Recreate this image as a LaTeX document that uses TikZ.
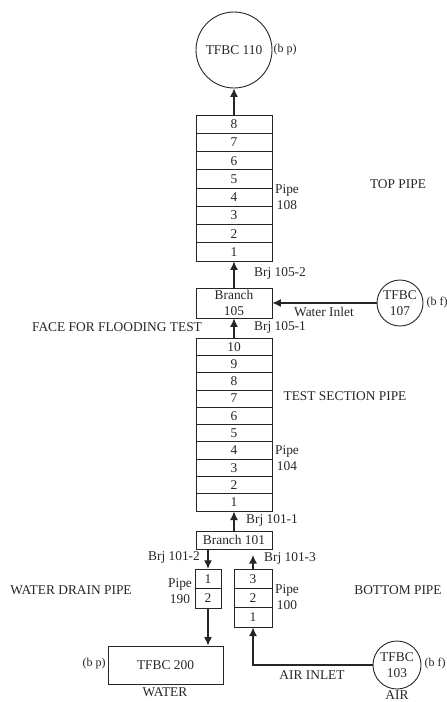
\documentclass[tikz,border=0pt]{standalone}
\usepackage{fontspec}
\setmainfont{Liberation Serif}
\usetikzlibrary{arrows.meta}
\definecolor{ink}{gray}{0.15}
\tikzset{
  every node/.style={text=ink,font=\fontsize{13.4}{15.5}\selectfont,inner sep=0pt,align=center},
  tag/.style={font=\fontsize{12}{14}\selectfont},
  box/.style={draw=ink,line width=0.9pt,minimum width=#1,minimum height=18pt},
  cell/.style={draw=ink,line width=0.9pt,minimum width=76pt,minimum height=#1},
  narrow/.style={draw=ink,line width=0.9pt,minimum width=#1,minimum height=19.5pt},
  bc/.style={draw=ink,line width=0.9pt,circle,minimum size=#1},
  flow/.style={draw=ink,line width=1.1pt,-{Latex[length=8.5pt,width=8pt]}}
}
\begin{document}
\begin{tikzpicture}[x=1pt,y=-1pt]
\useasboundingbox (0,0) rectangle (447,702);
% top boundary
\node[bc=76pt] (t110) at (234,50) {TFBC 110};
\node[tag] (l110) at (285,50) {(b p)};
% pipe 108
\foreach \i in {1,...,8} \node[cell=18.25pt] (a\i) at (234,{251.9-(\i-1)*18.25}) {\i};
\node (l108) at (287,197) {Pipe\\108};
\node (ltop) at (398,184) {TOP PIPE};
\draw[flow] (a8) -- (t110);
% branch 105
\node[draw=ink,line width=0.9pt,minimum width=76pt,minimum height=30pt] (b105) at (234,303) {Branch\\105};
\draw[flow] (b105) -- (a1);
\node (j1052) at (280,273) {Brj 105-2};
\node (j1051) at (280,327) {Brj 105-1};
\node (lface) at (117,327) {FACE FOR FLOODING TEST};
% water inlet
\node[bc=46pt] (t107) at (400,303) {TFBC\\107};
\node[tag] (l107) at (437,303) {(b f)};
\draw[flow] (t107) -- (b105);
\node (lwater) at (324,312) {Water Inlet};
% pipe 104
\foreach \i in {1,...,10} \node[cell=17.3pt] (c\i) at (234,{502.4-(\i-1)*17.3}) {\i};
\draw[flow] (c10) -- (b105);
\node (l104) at (287,458) {Pipe\\104};
\node (ltest) at (345,396) {TEST SECTION PIPE};
% branch 101
\node[box=76pt] (b101) at (234,540) {Branch 101};
\draw[flow] (b101) -- (c1);
\node (j1011) at (272,520) {Brj 101-1};
\node (j1012) at (174,557) {Brj 101-2};
\node (j1013) at (290,558) {Brj 101-3};
% pipe 190
\node[narrow=26pt] (d1) at (208,579) {1};
\node[narrow=26pt] (d2) at (208,598.5) {2};
\draw[flow] (b101.south -| d1) -- (d1);
\node (l190) at (180,591) {Pipe\\190};
\node (ldrain) at (71,590) {WATER DRAIN PIPE};
% pipe 100
\node[narrow=38pt] (e3) at (253,578.7) {3};
\node[narrow=38pt] (e2) at (253,598) {2};
\node[narrow=38pt] (e1) at (253,617.3) {1};
\coordinate (free) at (253,555);
\draw[flow] (e3) -- (free);
\node (l100) at (287,597) {Pipe\\100};
\node (lbot) at (398,590) {BOTTOM PIPE};
% water tank
\node[draw=ink,line width=0.9pt,minimum width=115pt,minimum height=38pt] (t200) at (165.5,665) {TFBC 200};
\draw[flow] (d2.south) -- (d2.south |- t200.north);
\node[tag] (l200) at (94,664) {(b p)};
\node (lwat) at (165,692) {WATER};
% air inlet
\node[bc=48pt] (t103) at (397,665) {TFBC\\103};
\node[tag] (l103) at (435,664) {(b f)};
\draw[flow] (t103.west) -| (e1.south);
\node (lairin) at (312,675) {AIR INLET};
\node (lair) at (397,695.5) {AIR};
\end{tikzpicture}
\end{document}
